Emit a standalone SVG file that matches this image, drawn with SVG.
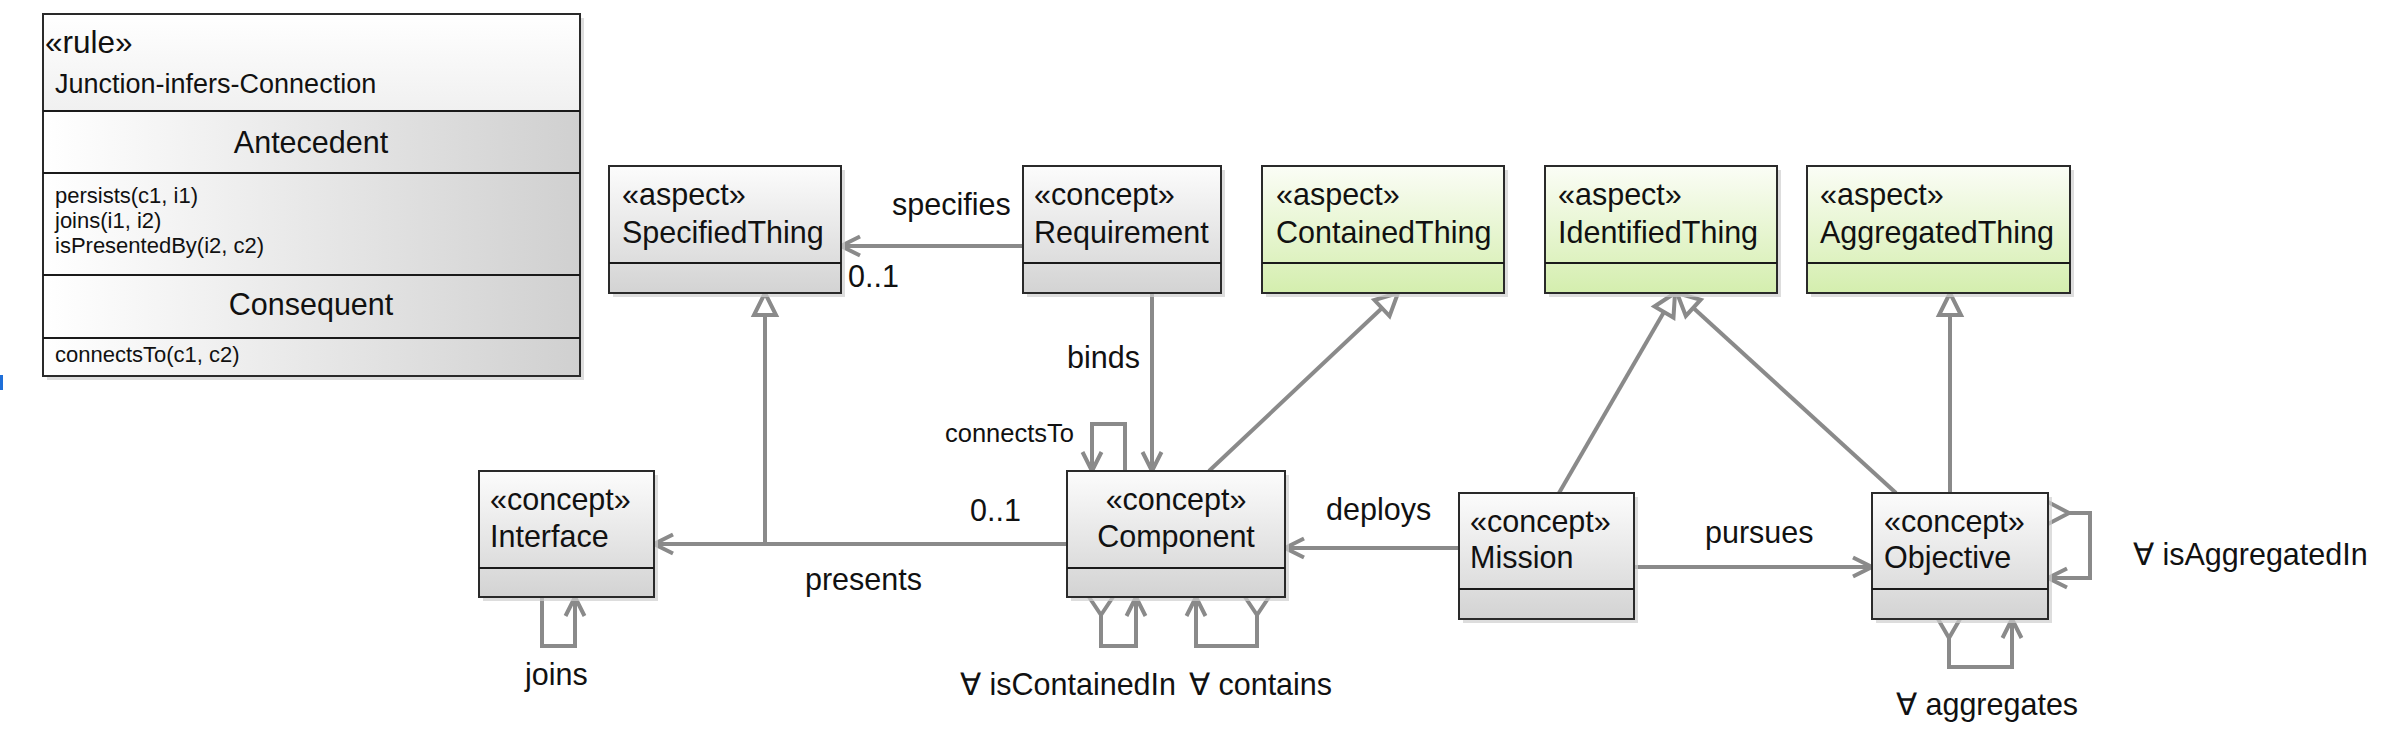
<svg xmlns="http://www.w3.org/2000/svg" width="2382" height="746" viewBox="0 0 2382 746">
<defs>
<linearGradient id="gGray" x1="0" y1="0" x2="0" y2="1"><stop offset="0" stop-color="#fcfcfc"/><stop offset="1" stop-color="#d3d3d3"/></linearGradient>
<linearGradient id="gGreen" x1="0" y1="0" x2="0" y2="1"><stop offset="0" stop-color="#fbfdf6"/><stop offset="1" stop-color="#d4eeae"/></linearGradient>
<linearGradient id="gRuleH" x1="0" y1="0" x2="0" y2="1"><stop offset="0" stop-color="#ffffff"/><stop offset="1" stop-color="#f0f0f0"/></linearGradient>
<linearGradient id="gRule" x1="0" y1="0" x2="1" y2="0"><stop offset="0" stop-color="#ffffff"/><stop offset="1" stop-color="#d0d0d0"/></linearGradient>
<marker id="open" markerUnits="userSpaceOnUse" viewBox="-24 -14 28 28" refX="0" refY="0" markerWidth="28" markerHeight="28" orient="auto"><path d="M -19 -9.5 L 0 0 L -19 9.5" fill="none" stroke="#8a8a8a" stroke-width="4"/></marker>
<marker id="tri" markerUnits="userSpaceOnUse" viewBox="-27 -16 32 32" refX="0" refY="0" markerWidth="32" markerHeight="32" orient="auto"><path d="M 0 0 L -22 -11 L -22 11 Z" fill="#ffffff" stroke="#8a8a8a" stroke-width="4" stroke-linejoin="miter"/></marker>
</defs>
<style>
text{font-family:"Liberation Sans",Arial,sans-serif;fill:#111;}
.t{font-size:30.5px;}
.s{font-size:22px;}
.c{font-size:25.5px;}
.box{stroke:#2a2a2a;stroke-width:2;}
.sep{stroke:#1a1a1a;stroke-width:2;}
.sh{fill:#cfcfcf;opacity:0.7;}
.ln{fill:none;stroke:#8a8a8a;stroke-width:4;}
</style>
<rect x="0" y="375" width="3" height="15" fill="#1e6fd9"/>
<g id="rule">
<rect class="sh" x="47" y="18" width="537" height="362"/>
<rect x="43" y="14" width="537" height="97" fill="url(#gRuleH)"/>
<rect x="43" y="111" width="537" height="265" fill="url(#gRule)"/>
<rect class="box" x="43" y="14" width="537" height="362" fill="none"/>
<line class="sep" x1="43" y1="111" x2="580" y2="111"/>
<line class="sep" x1="43" y1="173" x2="580" y2="173"/>
<line class="sep" x1="43" y1="275" x2="580" y2="275"/>
<line class="sep" x1="43" y1="338" x2="580" y2="338"/>
<text x="45" y="53" style="font-size:31.5px">«rule»</text>
<text x="55" y="93" style="font-size:27px">Junction-infers-Connection</text>
<text class="t" x="311" y="153" text-anchor="middle">Antecedent</text>
<text class="s" x="55" y="203">persists(c1, i1)</text>
<text class="s" x="55" y="228">joins(i1, i2)</text>
<text class="s" x="55" y="253">isPresentedBy(i2, c2)</text>
<text class="t" x="311" y="315" text-anchor="middle">Consequent</text>
<text class="s" x="55" y="362">connectsTo(c1, c2)</text>
</g>
<g id="connectors">
<path class="ln" d="M 1023 246 L 841 246" marker-end="url(#open)"/>
<path class="ln" d="M 1152 293 L 1152 471" marker-end="url(#open)"/>
<path class="ln" d="M 1125 471 L 1125 424 L 1092 424 L 1092 471" marker-end="url(#open)"/>
<path class="ln" d="M 1067 544 L 654 544" marker-end="url(#open)"/>
<path class="ln" d="M 765 544 L 765 293" marker-end="url(#tri)"/>
<path class="ln" d="M 542 597 L 542 646 L 575 646 L 575 597" marker-end="url(#open)"/>
<path class="ln" d="M 1101 615 L 1101 646 L 1136 646 L 1136 597" marker-end="url(#open)"/>
<path class="ln" d="M 1089 597 L 1101 615 L 1113 597"/>
<path class="ln" d="M 1257 615 L 1257 646 L 1196 646 L 1196 597" marker-end="url(#open)"/>
<path class="ln" d="M 1245 597 L 1257 615 L 1269 597"/>
<path class="ln" d="M 1209 471 L 1398 293" marker-end="url(#tri)"/>
<path class="ln" d="M 1459 548 L 1285 548" marker-end="url(#open)"/>
<path class="ln" d="M 1634 567 L 1872 567" marker-end="url(#open)"/>
<path class="ln" d="M 1559 493 L 1675 293" marker-end="url(#tri)"/>
<path class="ln" d="M 1896 493 L 1677 293" marker-end="url(#tri)"/>
<path class="ln" d="M 1950 493 L 1950 293" marker-end="url(#tri)"/>
<path class="ln" d="M 2069 513 L 2090 513 L 2090 578 L 2048 578" marker-end="url(#open)"/>
<path class="ln" d="M 2048 502 L 2069 513 L 2048 524"/>
<path class="ln" d="M 1949 638 L 1949 667 L 2012 667 L 2012 619" marker-end="url(#open)"/>
<path class="ln" d="M 1938 619 L 1949 638 L 1960 619"/>
<text class="t" x="892" y="215">specifies</text>
<text class="t" x="848" y="287">0..1</text>
<text class="t" x="1067" y="368">binds</text>
<text class="c" x="945" y="442">connectsTo</text>
<text class="t" x="970" y="521">0..1</text>
<text class="t" x="805" y="590">presents</text>
<text class="t" x="525" y="685">joins</text>
<text class="t" x="960" y="695">∀ isContainedIn</text>
<text class="t" x="1189" y="695">∀ contains</text>
<text class="t" x="1326" y="520">deploys</text>
<text class="t" x="1705" y="543">pursues</text>
<text class="t" x="2133" y="565">∀ isAggregatedIn</text>
<text class="t" x="1896" y="715">∀ aggregates</text>
</g>
<g id="SpecifiedThing">
<rect class="sh" x="613" y="170" width="232" height="127"/>
<rect class="box" x="609" y="166" width="232" height="127" fill="url(#gGray)"/>
<line class="sep" x1="609" y1="263" x2="841" y2="263"/>
<text class="t" x="622" y="205">«aspect»</text>
<text class="t" x="622" y="243">SpecifiedThing</text>
</g>
<g id="Requirement">
<rect class="sh" x="1027" y="170" width="198" height="127"/>
<rect class="box" x="1023" y="166" width="198" height="127" fill="url(#gGray)"/>
<line class="sep" x1="1023" y1="263" x2="1221" y2="263"/>
<text class="t" x="1034" y="205">«concept»</text>
<text class="t" x="1034" y="243">Requirement</text>
</g>
<g id="ContainedThing">
<rect class="sh" x="1266" y="170" width="242" height="127"/>
<rect class="box" x="1262" y="166" width="242" height="127" fill="url(#gGreen)"/>
<line class="sep" x1="1262" y1="263" x2="1504" y2="263"/>
<text class="t" x="1276" y="205">«aspect»</text>
<text class="t" x="1276" y="243">ContainedThing</text>
</g>
<g id="IdentifiedThing">
<rect class="sh" x="1549" y="170" width="232" height="127"/>
<rect class="box" x="1545" y="166" width="232" height="127" fill="url(#gGreen)"/>
<line class="sep" x1="1545" y1="263" x2="1777" y2="263"/>
<text class="t" x="1558" y="205">«aspect»</text>
<text class="t" x="1558" y="243">IdentifiedThing</text>
</g>
<g id="AggregatedThing">
<rect class="sh" x="1811" y="170" width="263" height="127"/>
<rect class="box" x="1807" y="166" width="263" height="127" fill="url(#gGreen)"/>
<line class="sep" x1="1807" y1="263" x2="2070" y2="263"/>
<text class="t" x="1820" y="205">«aspect»</text>
<text class="t" x="1820" y="243">AggregatedThing</text>
</g>
<g id="Interface">
<rect class="sh" x="483" y="475" width="175" height="126"/>
<rect class="box" x="479" y="471" width="175" height="126" fill="url(#gGray)"/>
<line class="sep" x1="479" y1="568" x2="654" y2="568"/>
<text class="t" x="490" y="510">«concept»</text>
<text class="t" x="490" y="547">Interface</text>
</g>
<g id="Component">
<rect class="sh" x="1071" y="475" width="218" height="126"/>
<rect class="box" x="1067" y="471" width="218" height="126" fill="url(#gGray)"/>
<line class="sep" x1="1067" y1="568" x2="1285" y2="568"/>
<text class="t" x="1176" y="510" text-anchor="middle">«concept»</text>
<text class="t" x="1176" y="547" text-anchor="middle">Component</text>
</g>
<g id="Mission">
<rect class="sh" x="1463" y="497" width="175" height="126"/>
<rect class="box" x="1459" y="493" width="175" height="126" fill="url(#gGray)"/>
<line class="sep" x1="1459" y1="589" x2="1634" y2="589"/>
<text class="t" x="1470" y="532">«concept»</text>
<text class="t" x="1470" y="568">Mission</text>
</g>
<g id="Objective">
<rect class="sh" x="1876" y="497" width="176" height="126"/>
<rect class="box" x="1872" y="493" width="176" height="126" fill="url(#gGray)"/>
<line class="sep" x1="1872" y1="589" x2="2048" y2="589"/>
<text class="t" x="1884" y="532">«concept»</text>
<text class="t" x="1884" y="568">Objective</text>
</g>
</svg>
